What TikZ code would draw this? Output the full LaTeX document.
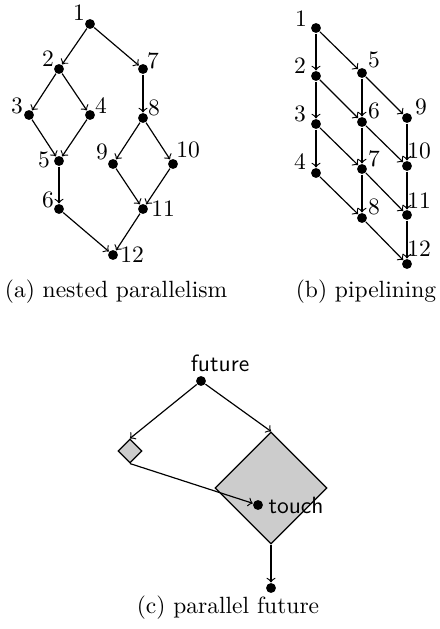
\documentclass[tikz,border=0pt]{standalone}
\usetikzlibrary{shapes.geometric}
\begin{document}
\begin{tikzpicture}[x=0.4255pt,y=-0.4255pt,line width=0.5pt,
  dot/.style={circle,fill=black,inner sep=0pt,minimum size=4.2pt},
  lbl/.style={inner sep=0pt},
  slbl/.style={inner sep=0pt,font=\sffamily},
  captext/.style={inner sep=0pt},
  arr/.style={->},
  blob/.style={diamond,draw=black,fill=gray!40,inner sep=0pt,aspect=1}]
\useasboundingbox (0,0) rectangle (440,629);

% ---------- (a) nested parallelism
\node[dot] (a1) at (90,24) {};
\node[dot] (a2) at (59,69) {};
\node[dot] (a7) at (143,69) {};
\node[dot] (a3) at (29,115) {};
\node[dot] (a4) at (90,115) {};
\node[dot] (a8) at (143,118) {};
\node[dot] (a5) at (59,161) {};
\node[dot] (a9) at (113,164) {};
\node[dot] (a10) at (173,164) {};
\node[dot] (a6) at (59,209) {};
\node[dot] (a11) at (143,209) {};
\node[dot] (a12) at (113,255) {};
\node[lbl] (a1l) at (79,13) {1};
\node[lbl] (a2l) at (48,59) {2};
\node[lbl] (a7l) at (153,61) {7};
\node[lbl] (a3l) at (17,106) {3};
\node[lbl] (a4l) at (101,106) {4};
\node[lbl] (a8l) at (154,108) {8};
\node[lbl] (a5l) at (44,160) {5};
\node[lbl] (a9l) at (102,152) {9};
\node[lbl] (a10l) at (188,150) {10};
\node[lbl] (a6l) at (48,200) {6};
\node[lbl] (a11l) at (163,209) {11};
\node[lbl] (a12l) at (132,255) {12};
\foreach \s/\t in {a1/a2,a1/a7,a2/a3,a2/a4,a3/a5,a4/a5,a5/a6,a6/a12,
                   a7/a8,a8/a9,a8/a10,a9/a11,a10/a11,a11/a12}
  \draw[arr] (\s) -- (\t);
\node[captext] (capa) at (116,292) {(a) nested parallelism};

% ---------- (b) pipelining
\node[dot] (b1) at (316,28) {};
\node[dot] (b2) at (316,76) {};
\node[dot] (b3) at (316,124) {};
\node[dot] (b4) at (316,173) {};
\node[dot] (b5) at (362,73) {};
\node[dot] (b6) at (362,122) {};
\node[dot] (b7) at (362,169) {};
\node[dot] (b8) at (362,218) {};
\node[dot] (b9) at (407,118) {};
\node[dot] (b10) at (407,166) {};
\node[dot] (b11) at (407,215) {};
\node[dot] (b12) at (407,264) {};
\node[lbl] (b1l) at (301,19) {1};
\node[lbl] (b2l) at (300,66) {2};
\node[lbl] (b3l) at (300,114) {3};
\node[lbl] (b4l) at (300,162) {4};
\node[lbl] (b5l) at (374,60) {5};
\node[lbl] (b6l) at (374,111) {6};
\node[lbl] (b7l) at (374,159) {7};
\node[lbl] (b8l) at (374,207) {8};
\node[lbl] (b9l) at (421,107) {9};
\node[lbl] (b10l) at (419,151) {10};
\node[lbl] (b11l) at (419,201) {11};
\node[lbl] (b12l) at (419,249) {12};
\foreach \s/\t in {b1/b2,b2/b3,b3/b4,b5/b6,b6/b7,b7/b8,b9/b10,b10/b11,b11/b12,
                   b1/b5,b2/b6,b3/b7,b4/b8,b5/b9,b6/b10,b7/b11,b8/b12}
  \draw[arr] (\s) -- (\t);
\node[captext] (capb) at (366,292) {(b) pipelining};

% ---------- (c) parallel future
\node[blob,minimum size=10.2pt] (sd) at (130,451) {};
\node[blob,minimum size=47.7pt] (bd) at (271,488) {};
\node[dot] (fd) at (201,381) {};
\node[slbl] (fdl) at (220,363) {future};
\node[dot] (td) at (258,505) {};
\node[slbl,anchor=west] (tdl) at (268,505) {touch};
\node[dot] (ed) at (271,588) {};
\draw[arr] (fd) -- (sd.north);
\draw[arr] (fd) -- (bd.north);
\draw[arr] (sd.south) -- (td);
\draw[arr] (bd.south) -- (ed);
\node[captext] (capc) at (228,608) {(c) parallel future};
\end{tikzpicture}
\end{document}
